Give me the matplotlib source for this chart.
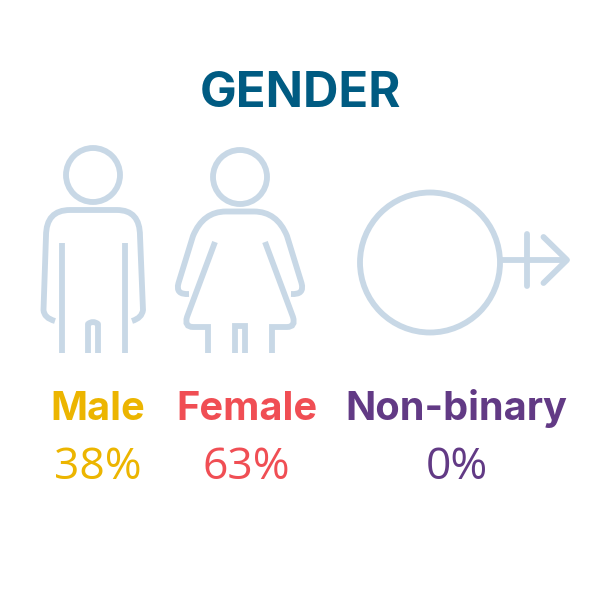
import matplotlib.pyplot as plt
from matplotlib.path import Path
from matplotlib.patches import PathPatch, Circle

# Chart content
title = 'GENDER'
labels = ['Male', 'Female', 'Non-binary']
values = [38, 63, 0]
colors = ['#ECB500', '#F04E54', '#623A85']
label_x = [98, 246.5, 456.5]

icon_color = '#C8D8E6'
icon_lw = 4.2
bold_font = ['Inter', 'Roboto', 'DejaVu Sans']
light_font = ['Open Sans', 'DejaVu Sans']

fig = plt.figure(figsize=(6, 6), dpi=100)
ax = fig.add_axes([0, 0, 1, 1])
ax.set_xlim(0, 600)
ax.set_ylim(600, 0)
ax.axis('off')

M, L, Q = Path.MOVETO, Path.LINETO, Path.CURVE3


def stroke(points, codes=None, cap='butt', join='round'):
    # draw an outline in icon colour, codes default to straight segments
    if codes is None:
        codes = [M] + [L] * (len(points) - 1)
    ax.add_patch(PathPatch(Path(points, codes), fill=False, edgecolor=icon_color,
                           lw=icon_lw, capstyle=cap, joinstyle=join))


def head(x, y, r):
    ax.add_patch(Circle((x, y), r, fill=False, edgecolor=icon_color, lw=icon_lw))


# Male icon
head(93, 175, 27)
stroke([(55, 321), (44, 318), (43.5, 310), (46, 236), (46, 210), (70, 210),
        (117, 210), (140, 210), (140, 236), (143, 310), (142, 318), (132, 321)],
       [M, Q, Q, L, Q, Q, L, Q, Q, L, Q, Q])
stroke([(61.5, 243), (61.5, 353)])
stroke([(125, 243), (125, 353)])
stroke([(88, 353), (88, 324), (93, 320), (98, 324), (98, 353)], [M, L, Q, Q, L])

# Female icon
head(240, 177, 27)
stroke([(189, 294), (175, 295), (178.5, 283), (193, 236), (203, 211.5), (226, 211.5),
        (254, 211.5), (277, 211.5), (287, 236), (301.5, 283), (305, 295), (291, 294)],
       [M, Q, Q, L, Q, Q, L, Q, Q, L, Q, Q])
stroke([(215, 242), (187, 317), (184, 327), (193, 327), (208, 327), (208, 353)],
       [M, L, Q, Q, L, L], join='miter')
stroke([(265, 242), (293, 317), (296, 327), (287, 327), (272, 327), (272, 353)],
       [M, L, Q, Q, L, L], join='miter')
stroke([(235, 353), (235, 325.5), (245, 325.5), (245, 353)], join='miter')

# Non-binary icon
head(430, 262.5, 70)
stroke([(500, 260), (567, 260)])
stroke([(527, 234), (527, 286)], cap='round')
stroke([(543.5, 237), (567, 260), (543.5, 283)], cap='round')

ax.text(300, 107, title, color='#005B82', fontsize=35.3, fontweight='bold',
        family=bold_font, ha='center', va='baseline')

for x, lab, val, c in zip(label_x, labels, values, colors):
    ax.text(x, 420, lab, color=c, fontsize=28.6, fontweight='bold', family=bold_font,
            ha='center', va='baseline')
    ax.text(x, 479, f'{val}%', color=c, fontsize=32, family=light_font, ha='center',
            va='baseline')

fig.savefig('out.png', dpi=100)
